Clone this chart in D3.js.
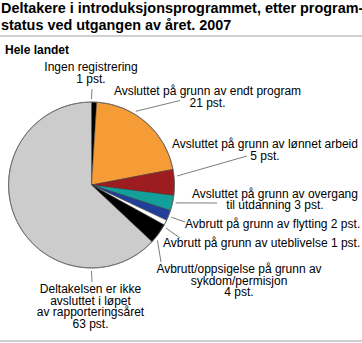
<!DOCTYPE html>
<html>
<head>
<meta charset="utf-8">
<script src="https://cdn.jsdelivr.net/npm/d3@7"></script>
<style>
  body { margin: 0; background: #fff; }
  svg { display: block; font-family: "Liberation Sans", Arial, sans-serif; }
</style>
</head>
<body>
<div class="chart"></div>
<script>
    'use strict';

    /* data */
    const categories = [
        'Ingen registrering',
        'Avsluttet på grunn av endt program',
        'Avsluttet på grunn av lønnet arbeid',
        'Avsluttet på grunn av overgang til utdanning',
        'Avbrutt på grunn av flytting',
        'Avbrutt på grunn av uteblivelse',
        'Avbrutt/oppsigelse på grunn av sykdom/permisjon',
        'Deltakelsen er ikke avsluttet i løpet av rapporteringsåret'
    ];
    const values = [1, 21, 5, 3, 2, 1, 4, 63];
    const labelLines = [
        ['Ingen registrering', ''],
        ['Avsluttet på grunn av endt program', ''],
        ['Avsluttet på grunn av lønnet arbeid', ''],
        ['Avsluttet på grunn av overgang', 'til utdanning'],
        ['Avbrutt på grunn av flytting'],
        ['Avbrutt på grunn av uteblivelse'],
        ['Avbrutt/oppsigelse på grunn av', 'sykdom/permisjon', ''],
        ['Deltakelsen er ikke', 'avsluttet i løpet', 'av rapporteringsåret', '']
    ];
    const colors = ['#000000', '#f59c37', '#9c1c20', '#14a09a', '#213f99', '#ffffff', '#000000', '#cccccc'];

    /* layout */
    const width = 362;
    const height = 343;
    const cx = 91.5, cy = 185, radius = 83;
    const lineHeight = 11.7;
    // label anchor, first baseline, leader angle (deg) and leader end
    const labelLayout = [
        { x: 91, y: 71, anchor: 'middle', angle: 0, end: [92, 89] },
        { x: 207.5, y: 95, anchor: 'middle', angle: 31, end: [180, 100.5] },
        { x: 265, y: 148, anchor: 'middle', angle: 84, end: [247, 156] },
        { x: 275, y: 197.5, anchor: 'middle', angle: 102, end: [217, 203] },
        { x: 185, y: 228, anchor: 'start', angle: 112, end: [185, 222] },
        { x: 163, y: 247, anchor: 'start', angle: 120, end: [180, 238] },
        { x: 239, y: 273, anchor: 'middle', angle: 130, end: [161, 262] },
        { x: 90.5, y: 293, anchor: 'middle', angle: 180, end: [92, 282] }
    ];

    const svg = d3.select('.chart').append('svg')
        .attr('width', width)
        .attr('height', height);

    /* title */
    const title = svg.append('text')
        .attr('x', 1)
        .attr('y', 13)
        .style('font-size', '14.4px')
        .style('font-weight', 700)
        .attr('fill', '#000');
    title.append('tspan').attr('x', 1).text('Deltakere i introduksjonsprogrammet, etter program-');
    title.append('tspan').attr('x', 1).attr('dy', 16.6).text('status ved utgangen av året. 2007');

    svg.append('line')
        .attr('x1', 0).attr('x2', width)
        .attr('y1', 36).attr('y2', 36)
        .attr('stroke', '#c0c0c0').attr('stroke-width', 1.5);
    svg.append('line')
        .attr('x1', 0).attr('x2', width)
        .attr('y1', 341).attr('y2', 341)
        .attr('stroke', '#c0c0c0').attr('stroke-width', 1.5);

    svg.append('text')
        .attr('x', 5).attr('y', 54)
        .style('font-size', '12px')
        .style('font-weight', 700)
        .text('Hele landet');

    /* pie */
    const pie = d3.pie().sort(null).value(function (d) { return d; });
    const arc = d3.arc().innerRadius(0).outerRadius(radius);
    const arcs = pie(values);

    const plot = svg.append('g')
        .attr('transform', 'translate(' + cx + ', ' + cy + ')');

    plot.selectAll('.slice').data(arcs)
        .enter().append('path')
        .attr('class', 'slice')
        .attr('d', arc)
        .attr('fill', function (d, i) { return colors[i]; })
        .attr('stroke', '#333')
        .attr('stroke-width', 0.5)
        .attr('stroke-linejoin', 'round');

    plot.append('circle')
        .attr('r', radius)
        .attr('fill', 'none')
        .attr('stroke', '#666')
        .attr('stroke-width', 0.8);

    /* leader lines */
    const leaderR = radius + 3;
    svg.selectAll('.leader').data(labelLayout)
        .enter().append('line')
        .attr('class', 'leader')
        .attr('x1', function (d) { return cx + leaderR * Math.sin(d.angle * Math.PI / 180); })
        .attr('y1', function (d) { return cy - leaderR * Math.cos(d.angle * Math.PI / 180); })
        .attr('x2', function (d) { return d.end[0]; })
        .attr('y2', function (d) { return d.end[1]; })
        .attr('stroke', '#444')
        .attr('stroke-width', 0.7);

    /* labels */
    const labels = svg.selectAll('.label').data(categories)
        .enter().append('text')
        .attr('class', 'label')
        .attr('text-anchor', function (d, i) { return labelLayout[i].anchor; })
        .style('font-size', '12px')
        .attr('fill', '#000');

    labels.each(function (d, i) {
        const lines = labelLines[i].slice();
        const last = lines.length - 1;
        lines[last] = (lines[last] ? lines[last] + ' ' : '') + values[i] + ' pst.';
        const t = d3.select(this);
        lines.forEach(function (line, j) {
            t.append('tspan')
                .attr('x', labelLayout[i].x)
                .attr('y', labelLayout[i].y + j * lineHeight)
                .text(line);
        });
    });
</script>
</body>
</html>
